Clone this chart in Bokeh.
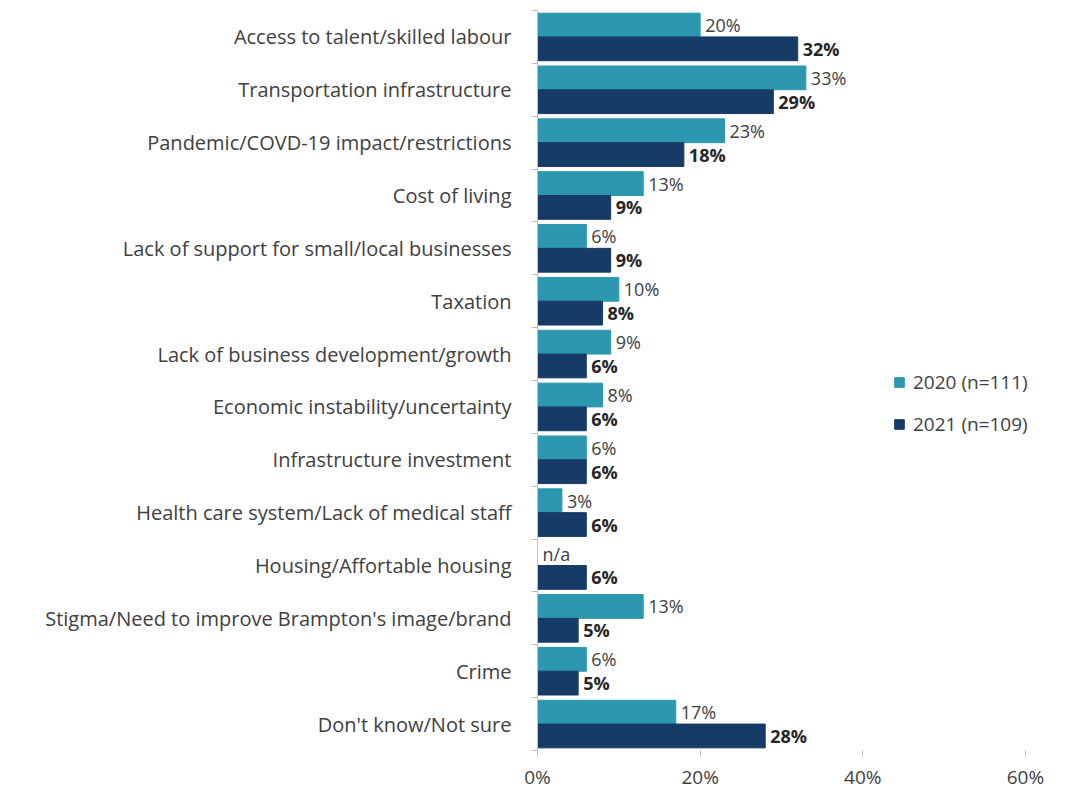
import numpy as np
from bokeh.plotting import figure
from bokeh.models import (ColumnDataSource, Range1d, FixedTicker, Legend, LegendItem)
from bokeh.core.properties import value
from bokeh.embed import file_html
from bokeh.resources import INLINE

categories = [
    "Access to talent/skilled labour",
    "Transportation infrastructure",
    "Pandemic/COVD-19 impact/restrictions",
    "Cost of living",
    "Lack of support for small/local businesses",
    "Taxation",
    "Lack of business development/growth",
    "Economic instability/uncertainty",
    "Infrastructure investment",
    "Health care system/Lack of medical staff",
    "Housing/Affortable housing",
    "Stigma/Need to improve Brampton's image/brand",
    "Crime",
    "Don't know/Not sure",
]
values_2020 = [20, 33, 23, 13, 6, 10, 9, 8, 6, 3, None, 13, 6, 17]
values_2021 = [32, 29, 18, 9, 9, 8, 6, 6, 6, 6, 6, 5, 5, 28]
series_names = ["2020 (n=111)", "2021 (n=109)"]
x_ticks = [0, 20, 40, 60]
x_tick_labels = {0: "0%", 20: "20%", 40: "40%", 60: "60%"}

C2020 = "#2B98AF"
C2021 = "#173B67"
TXT = "#404040"
FONT = "Open Sans"

n = len(categories)
centers = [n - i - 0.5 for i in range(n)]
bar_h = 0.45
off = 0.225

v20 = [np.nan if v is None else v for v in values_2020]
src20 = ColumnDataSource(dict(
    y=[c + off for c in centers],
    right=v20,
    lx=[0 if v is None else v for v in values_2020],
    lbl=["n/a" if v is None else f"{v}%" for v in values_2020],
))
src21 = ColumnDataSource(dict(
    y=[c - off for c in centers],
    right=values_2021,
    lbl=[f"{v}%" for v in values_2021],
))

p = figure(width=1068, height=792, output_backend="svg", toolbar_location=None,
           x_range=Range1d(0, 65.3), y_range=Range1d(0, n),
           min_border_left=537, min_border_right=0, min_border_top=10,
           min_border_bottom=40)
p.outline_line_color = None
p.grid.grid_line_color = None

r20 = p.hbar(y="y", right="right", left=0, height=bar_h, color=C2020, source=src20)
r21 = p.hbar(y="y", right="right", left=0, height=bar_h, color=C2021, source=src21)

p.text(x="lx", y="y", text="lbl", source=src20, x_offset=5,
       text_baseline="middle", text_align="left", text_font=value(FONT),
       text_font_size="18px", text_color=TXT)
p.text(x="right", y="y", text="lbl", source=src21, x_offset=5,
       text_baseline="middle", text_align="left", text_font=value(FONT),
       text_font_size="18px", text_font_style="bold", text_color="#262626")

# y axis
p.yaxis.ticker = FixedTicker(ticks=centers, minor_ticks=list(range(0, n + 1)))
p.yaxis.major_label_overrides = {c: cat for c, cat in zip(centers, categories)}
p.yaxis.major_tick_out = 0
p.yaxis.major_tick_in = 0
p.yaxis.minor_tick_out = 6
p.yaxis.minor_tick_in = 0
p.yaxis.minor_tick_line_color = "#BFBFBF"
p.yaxis.axis_line_color = "#BFBFBF"
p.yaxis.major_label_text_font = FONT
p.yaxis.major_label_text_font_size = "20px"
p.yaxis.major_label_text_color = TXT
p.yaxis.major_label_standoff = 20

# x axis
p.xaxis.ticker = FixedTicker(ticks=x_ticks)
p.xaxis.major_label_overrides = {k: v for k, v in x_tick_labels.items()}
p.xaxis.axis_line_color = None
p.xaxis.major_tick_line_color = "#BFBFBF"
p.xaxis.major_tick_out = 6
p.xaxis.major_tick_in = 0
p.xaxis.minor_tick_line_color = None
p.xaxis.major_label_text_font = FONT
p.xaxis.major_label_text_font_size = "19px"
p.xaxis.major_label_text_color = TXT
p.xaxis.major_label_standoff = 7

legend = Legend(items=[LegendItem(label=series_names[0], renderers=[r20]),
                       LegendItem(label=series_names[1], renderers=[r21])],
                location=(356, 313), orientation="vertical")
legend.border_line_color = None
legend.background_fill_alpha = 0
legend.padding = 0
legend.margin = 0
legend.spacing = 16
legend.glyph_width = 12
legend.glyph_height = 12
legend.label_height = 22
legend.label_text_font = FONT
legend.label_text_font_size = "19px"
legend.label_text_color = TXT
legend.label_standoff = 8
p.add_layout(legend, "center")

open("out.html", "w").write(file_html(p, INLINE))
